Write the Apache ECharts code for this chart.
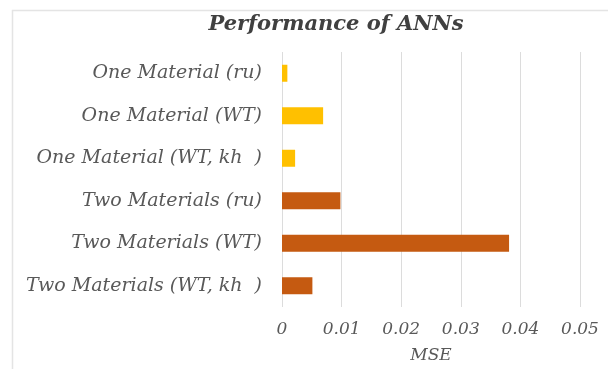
<!DOCTYPE html>
<html>
<head>
<meta charset="utf-8">
<script src="https://cdn.jsdelivr.net/npm/echarts@6/dist/echarts.min.js"></script>
<style>
  html, body { margin: 0; padding: 0; background: #ffffff; }
  #chart { width: 608px; height: 369px; }
</style>
</head>
<body>
<div id="chart"></div>
<script>
// Model variants, listed top to bottom
const categories = [
  'One Material (ru)',
  'One Material (WT)',
  'One Material (WT, kh  )',
  'Two Materials (ru)',
  'Two Materials (WT)',
  'Two Materials (WT, kh  )'
];
// Mean squared error of each network
const mseValues = [0.0009, 0.0069, 0.0022, 0.0098, 0.0381, 0.0051];
const xTicks = [0, 0.01, 0.02, 0.03, 0.04, 0.05];

const ONE_COLOR = '#FFC000';
const TWO_COLOR = '#C55A11';
const SERIF = '"DejaVu Serif", "Liberation Serif", serif';

const chart = echarts.init(document.getElementById('chart'), null, { renderer: 'canvas' });

chart.setOption({
  animation: false,
  backgroundColor: '#ffffff',
  title: {
    text: 'Performance of ANNs',
    left: 331,
    top: 9,
    textAlign: 'center',
    textStyle: {
      fontFamily: SERIF,
      fontStyle: 'italic',
      fontWeight: 'bold',
      fontSize: 21,
      color: '#404040'
    }
  },
  graphic: [{
    type: 'rect',
    left: 10,
    top: 8,
    shape: { width: 640, height: 400 },
    style: { fill: 'none', stroke: '#e4e4e4', lineWidth: 1.5 },
    silent: true
  }],
  grid: { left: 282, right: 28, top: 52, bottom: 60, containLabel: false },
  xAxis: {
    type: 'value',
    min: xTicks[0],
    max: xTicks[xTicks.length - 1],
    interval: 0.01,
    name: 'MSE',
    nameLocation: 'middle',
    nameGap: 40,
    nameTextStyle: {
      fontFamily: SERIF, fontStyle: 'italic', fontSize: 17, color: '#595959'
    },
    axisLine: { show: false },
    axisTick: { show: false },
    axisLabel: {
      margin: 14,
      fontFamily: SERIF, fontStyle: 'italic', fontSize: 17, color: '#595959',
      formatter: v => (v === 0 ? '0' : String(+v.toFixed(2)))
    },
    splitLine: { show: true, lineStyle: { color: '#dcdcdc', width: 1 } }
  },
  yAxis: {
    type: 'category',
    data: categories,
    inverse: true,
    axisLine: { show: false },
    axisTick: { show: false },
    axisLabel: {
      margin: 20,
      fontFamily: SERIF, fontStyle: 'italic', fontSize: 19, color: '#595959'
    }
  },
  series: [{
    type: 'bar',
    data: mseValues,
    barWidth: '40%',
    itemStyle: {
      color: p => (p.name.startsWith('One') ? ONE_COLOR : TWO_COLOR)
    }
  }]
});
</script>
</body>
</html>
